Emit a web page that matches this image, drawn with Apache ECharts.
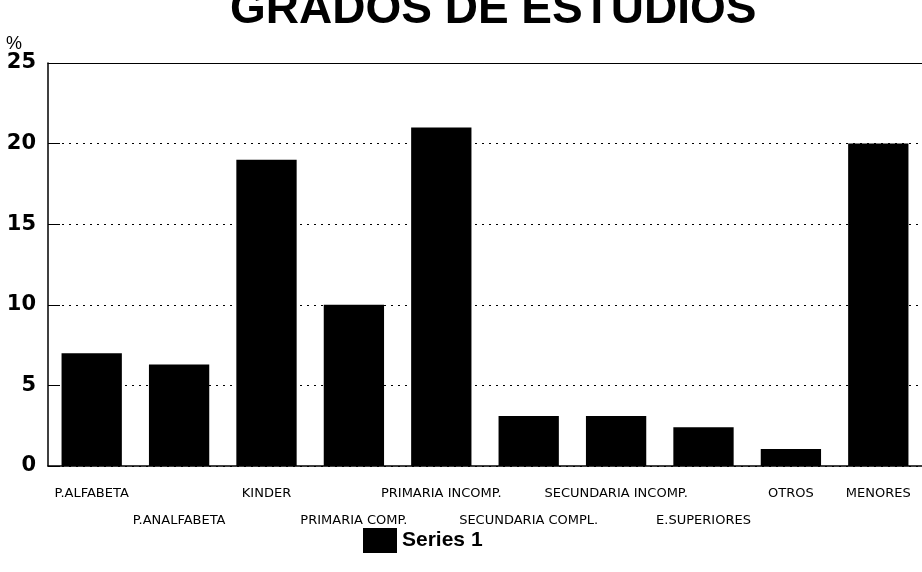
<!DOCTYPE html>
<html>
<head>
<meta charset="utf-8">
<script src="https://cdn.jsdelivr.net/npm/echarts@6/dist/echarts.min.js"></script>
<style>
  html, body { margin: 0; padding: 0; background: #fff; }
  #chart { width: 922px; height: 572px; }
</style>
</head>
<body>
<div id="chart"></div>
<script>
// categorias del eje x
var categories = [
  'P.ALFABETA', 'P.ANALFABETA', 'KINDER', 'PRIMARIA COMP.', 'PRIMARIA INCOMP.',
  'SECUNDARIA COMPL.', 'SECUNDARIA INCOMP.', 'E.SUPERIORES', 'OTROS', 'MENORES'
]
// porcentajes
var series1 = [7, 6.3, 19, 10, 21, 3.1, 3.1, 2.4, 1.05, 20]
var yTicks = [0, 5, 10, 15, 20, 25]
// etiquetas que van en la segunda fila
var lowerRow = [1, 3, 5, 7]

var myChart = echarts.init(document.getElementById('chart'))
var option = {
  animation: false,
  backgroundColor: '#fff',
  title: {
    text: 'GRADOS DE ESTUDIOS',
    left: 225,
    top: -18,
    textStyle: {
      fontFamily: 'Liberation Sans',
      fontWeight: 'bold',
      fontSize: 46,
      color: '#000'
    }
  },
  legend: {
    data: ['Series 1'],
    left: 363,
    top: 528,
    padding: 0,
    icon: 'rect',
    itemWidth: 34,
    itemHeight: 25,
    textStyle: {
      fontFamily: 'Liberation Sans',
      fontWeight: 'bold',
      fontSize: 21,
      color: '#000'
    }
  },
  grid: {
    left: 48,
    right: -8,
    top: 63,
    bottom: 106
  },
  xAxis: [
    {
      type: 'category',
      data: categories,
      axisLine: { show: true, lineStyle: { color: '#000', width: 1.5 } },
      axisTick: { show: false },
      axisLabel: {
        interval: 0,
        margin: 14,
        color: '#000',
        fontFamily: 'DejaVu Sans',
        fontSize: 13,
        lineHeight: 27,
        formatter: function(v, i) {
          return lowerRow.indexOf(i) >= 0 ? '\n' + v : v
        }
      }
    },
    {
      // solo la linea de arriba del marco
      type: 'category',
      position: 'top',
      data: categories,
      axisLine: { show: true, lineStyle: { color: '#000', width: 1 } },
      axisTick: { show: false },
      axisLabel: { show: false }
    }
  ],
  yAxis: {
    type: 'value',
    min: yTicks[0],
    max: yTicks[yTicks.length - 1],
    interval: 5,
    name: '%',
    nameLocation: 'end',
    nameGap: 10,
    nameTextStyle: {
      color: '#000',
      fontFamily: 'Liberation Sans',
      fontSize: 18,
      align: 'right',
      padding: [0, 26, 0, 0]
    },
    axisLine: { show: true, lineStyle: { color: '#000', width: 1.5 } },
    axisTick: { show: true, inside: true, length: 12, lineStyle: { color: '#000' } },
    axisLabel: {
      margin: 12,
      color: '#000',
      fontFamily: 'DejaVu Sans',
      fontWeight: 'bold',
      fontSize: 21
    },
    splitLine: {
      show: true,
      lineStyle: { color: '#000', type: [2, 5], width: 1 }
    }
  },
  series: [
    {
      name: 'Series 1',
      type: 'bar',
      xAxisIndex: 0,
      data: series1,
      barCategoryGap: '31%',
      itemStyle: { color: '#000' }
    }
  ]
}
myChart.setOption(option)
</script>
</body>
</html>
